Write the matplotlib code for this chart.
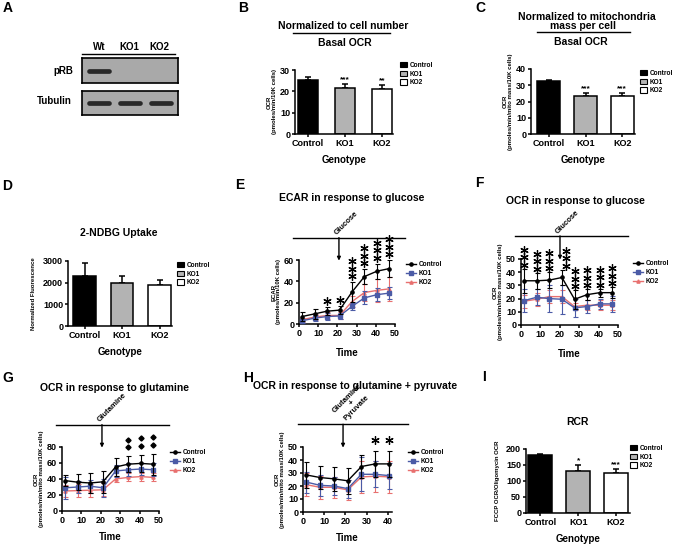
import numpy as np
import matplotlib
matplotlib.use('Agg')
import matplotlib.pyplot as plt
from matplotlib.patches import Patch
from matplotlib.lines import Line2D
from matplotlib import transforms

plt.rcParams['font.family'] = ['Liberation Sans', 'DejaVu Sans']
plt.rcParams['font.weight'] = 'bold'
plt.rcParams['axes.labelweight'] = 'bold'

W, H = 680, 544

genotypes = ['Control', 'KO1', 'KO2']
bar_colors = ['black', '#b3b3b3', 'white']
line_colors = ['black', '#4b5ba6', '#e8706f']
line_markers = ['o', 's', '^']

# A - western blot (relative band intensity per lane)
blot_lanes = ['Wt', 'KO1', 'KO2']
prb_band = [1, 0, 0]
tub_band = [1, 1, 1]

# B - basal OCR / cell number
b_mean = [25.5, 21.5, 21.0]
b_err = [1.0, 1.8, 2.0]
b_sig = ['', '***', '**']
# C - basal OCR / mito mass
c_mean = [32.5, 23.5, 23.5]
c_err = [1.0, 2.0, 1.5]
c_sig = ['', '***', '***']
# D - 2-NDBG uptake
d_mean = [2330, 1970, 1910]
d_err = [600, 350, 230]
d_sig = ['', '', '']
# I - RCR
i_mean = [181, 130, 124]
i_err = [4, 20, 15]
i_sig = ['', '*', '***']

# time points (min)
t8 = [1.6, 8.1, 14.6, 21.1, 27.6, 34.1, 40.6, 47.1]
t7 = t8[:7]

# E - ECAR glucose
e_mean = [[7, 9.5, 12, 13, 30, 44.5, 49.5, 52],
          [3, 5.5, 7, 7.5, 16.5, 24.5, 27.5, 29],
          [4, 6.5, 8, 8, 21, 29.5, 31.5, 33]]
e_err = [[4, 5, 4, 4, 9, 7, 7, 8],
         [2, 2.5, 3, 3, 3, 6, 6, 6],
         [2, 2.5, 3, 3, 5, 8, 11, 11]]
e_sig = [0, 0, 1, 1, 3, 3, 3, 3]

# F - OCR glucose
f_mean = [[33.5, 33.5, 34, 36, 19.5, 23, 24.5, 24.5],
          [18.5, 21, 20, 19.5, 13, 14, 16, 16],
          [18, 19.5, 21.5, 21.5, 14, 15, 15, 15]]
f_err = [[9, 6, 6, 6, 7, 4, 3, 4],
         [9, 6, 10, 11, 7, 5, 4, 6],
         [5, 5, 5, 5, 3, 4, 4, 4]]
f_sig = [3, 3, 3, 3, 3, 3, 3, 3]

# G - OCR glutamine
g_mean = [[38, 36, 35, 36.5, 55, 58.5, 59.5, 58.5],
          [29, 30, 31, 29, 50, 51.5, 52.5, 51.5],
          [25, 25.5, 26, 26.5, 40, 42, 43, 42]]
g_err = [[7, 10, 13, 14, 11, 10, 11, 13],
         [14, 8, 8, 11, 8, 8, 8, 8],
         [8, 8, 8, 8, 4, 5, 5, 5]]
g_sig = [0, 0, 0, 0, 0, 2, 2, 2]

# H - OCR glutamine + pyruvate
h_mean = [[28.5, 26.5, 25.5, 24, 35, 37, 37],
          [23, 20.5, 20, 18, 29, 29, 28],
          [21, 19, 19, 17, 27, 27.5, 27]]
h_err = [[10, 9, 9, 10, 9, 10, 10],
         [8, 8, 7, 7, 13, 10, 10],
         [9, 9, 8, 8, 12, 12, 12]]
h_sig = [0, 0, 0, 0, 0, 1, 1]

fig = plt.figure(figsize=(6.8, 5.44), dpi=100)


def rect(x0, y0, x1, y1):
    return [x0 / W, 1 - y1 / H, (x1 - x0) / W, (y1 - y0) / H]


def fxy(x, y):
    return x / W, 1 - y / H


def ftext(x, y, s, **kw):
    fx, fy = fxy(x, y)
    fig.text(fx, fy, s, **kw)


def fline(x0, x1, y):
    a, b = fxy(x0, y)
    c, d = fxy(x1, y)
    fig.add_artist(Line2D([a, c], [b, d], color='black', lw=1.0))


def style_axes(ax):
    for s in ['top', 'right']:
        ax.spines[s].set_visible(False)
    for s in ['left', 'bottom']:
        ax.spines[s].set_linewidth(1.1)
    ax.tick_params(direction='out', length=2.5, width=1.1, labelsize=6.5, pad=1)


def bar_panel(box, means, errs, sig, ylim, ystep, ylabel, leg, width=0.6, xl=(-0.45, 2.35), lpad=2):
    ax = fig.add_axes(rect(*box))
    x = np.arange(len(genotypes))
    ax.errorbar(x, means, yerr=[np.zeros(len(errs)), errs], fmt='none', ecolor='black',
                elinewidth=1.1, capsize=2.5, capthick=1.1, zorder=1)
    ax.bar(x, means, width=width, color=bar_colors, edgecolor='black', linewidth=1.1, zorder=2)
    ymax = ylim[1]
    for xi, m, e, s in zip(x, means, errs, sig):
        if s:
            ax.text(xi, m + e + 0.01 * ymax, s, ha='center', va='bottom', fontsize=6)
    ax.set_xlim(*xl)
    ax.set_ylim(*ylim)
    ax.set_yticks(np.arange(ylim[0], ylim[1] + 1, ystep))
    ax.set_xticks(x)
    ax.set_xticklabels(genotypes)
    ax.set_ylabel(ylabel, fontsize=4.3, labelpad=lpad, linespacing=1.0)
    ax.set_xlabel('Genotype', fontsize=7, labelpad=5)
    style_axes(ax)
    handles = [Patch(facecolor=c, edgecolor='black', linewidth=0.8) for c in bar_colors]
    lx, ly = fxy(*leg)
    ax.legend(handles, genotypes, loc='upper left', bbox_to_anchor=(lx, ly),
              bbox_transform=fig.transFigure, frameon=False, fontsize=4.7,
              handlelength=1.1, handleheight=0.9, handletextpad=0.4,
              labelspacing=0.25, borderpad=0, borderaxespad=0)
    return ax


def line_panel(box, t, means, errs, xlim, ylim, ystep, ylabel, sig, mark, inj_t, inj_label,
               inj_dx, leg, sig_pad=6, sig_shift=None, xstep=10, line_right=1.1, xpad=7):
    ax = fig.add_axes(rect(*box))
    for k in [2, 1, 0]:
        ax.errorbar(t, means[k], yerr=errs[k], color=line_colors[k], marker=line_markers[k],
                    ms=2.3, lw=1.0, elinewidth=0.8, capsize=1.8, capthick=0.8, zorder=3 + (2 - k))
    ax.set_xlim(*xlim)
    ax.set_ylim(*ylim)
    ax.set_xticks(np.arange(0, xlim[1] + 0.1, xstep))
    ax.set_yticks(np.arange(ylim[0], ylim[1] + 1, ystep))
    ax.set_ylabel(ylabel, fontsize=4.3, labelpad=2, linespacing=1.0)
    ax.set_xlabel('Time', fontsize=7, labelpad=xpad)
    style_axes(ax)
    # significance marks stacked above control
    ppu = (box[3] - box[1]) / (ylim[1] - ylim[0])
    for i, n in enumerate(sig):
        xs = t[i] + (sig_shift[i] if sig_shift else 0)
        base = means[0][i] + errs[0][i] + sig_pad / ppu
        for j in range(n):
            y = base + j * 7.5 / ppu
            if mark == '*':
                ax.plot(xs, y, marker=(6, 2, 0), ms=6.0, mew=0.9, color='black',
                        ls='none', clip_on=False, zorder=6)
            else:
                ax.plot(xs, y, marker='D', ms=2.6, color='black', ls='none', clip_on=False, zorder=6)
    # injection line / arrow
    tr = transforms.blended_transform_factory(ax.transData, ax.transAxes)
    ax.plot([-0.06, line_right], [1.35, 1.35], transform=ax.transAxes, color='black',
            lw=1.0, clip_on=False)
    ax.annotate('', xy=(inj_t, 0.99), xytext=(inj_t, 1.35), xycoords=tr, textcoords=tr,
                arrowprops=dict(arrowstyle='-|>', color='black', lw=1.0, mutation_scale=5,
                                shrinkA=0, shrinkB=0))
    ax.annotate(inj_label, xy=(inj_t, 1.35), xycoords=tr, xytext=(inj_dx, 0.5),
                textcoords='offset points', rotation=45, rotation_mode='anchor',
                ha='left', va='bottom', fontsize=5.6, multialignment='center', linespacing=0.95)
    handles = [Line2D([], [], color=line_colors[k], marker=line_markers[k], ms=2.3, lw=1.0)
               for k in range(3)]
    lx, ly = fxy(*leg)
    ax.legend(handles, genotypes, loc='upper left', bbox_to_anchor=(lx, ly),
              bbox_transform=fig.transFigure, frameon=False, fontsize=4.7,
              handlelength=1.5, handletextpad=0.4, labelspacing=0.3,
              borderpad=0, borderaxespad=0)
    return ax


# ---------------- A: blot ----------------
for box, band in [((82, 58, 178, 83), prb_band), ((82, 91, 178, 115), tub_band)]:
    ax = fig.add_axes(rect(*box))
    ax.set_facecolor('#a9a9a9')
    for i, v in enumerate(band):
        if v > 0:
            ax.plot([i - 0.32, i + 0.32], [0, 0], color='#222222', lw=3.4 * v,
                    solid_capstyle='round', alpha=0.95)
    ax.set_xlim(-0.55, 2.55)
    ax.set_ylim(-1, 1)
    ax.set_xticks([])
    ax.set_yticks([])
    for s in ax.spines.values():
        s.set_linewidth(1.2)
for i, lane in enumerate(blot_lanes):
    ftext(99 + i * 30, 47, lane, ha='center', va='center', fontsize=7)
fline(82, 175, 54)
ftext(73, 71, 'pRB', ha='right', va='center', fontsize=7)
ftext(72, 101, 'Tubulin', ha='right', va='center', fontsize=7)

# ---------------- B ----------------
bar_panel((295, 70, 393, 134), b_mean, b_err, b_sig, (0, 30), 10,
          'OCR\n(pmoles/min/10K cells)', (400, 62), width=0.53, xl=(-0.35, 2.3))
ftext(343, 26, 'Normalized to cell number', ha='center', va='center', fontsize=7.5)
fline(293, 390, 33)
ftext(345, 43, 'Basal OCR', ha='center', va='center', fontsize=7.5)

# ---------------- C ----------------
bar_panel((531, 69, 635, 134), c_mean, c_err, c_sig, (0, 40), 10,
          'OCR\n(pmoles/min/mito mass/10K cells)', (640, 70), width=0.63, xl=(-0.49, 2.35))
ftext(587, 17, 'Normalized to mitochondria', ha='center', va='center', fontsize=7.5)
ftext(583, 26, 'mass per cell', ha='center', va='center', fontsize=7.5)
fline(537, 630, 32)
ftext(581, 42, 'Basal OCR', ha='center', va='center', fontsize=7.5)

# ---------------- D ----------------
bar_panel((68, 261, 172, 326), d_mean, d_err, d_sig, (0, 3000), 1000,
          'Normalized Fluorescence', (177, 262), width=0.6, xl=(-0.44, 2.33), lpad=5)
ftext(119, 233, '2-NDBG Uptake', ha='center', va='center', fontsize=7.5)

# ---------------- E ----------------
line_panel((299, 260, 395, 324), t8, e_mean, e_err, (0, 50), (0, 60), 20,
           'ECAR\n(pmoles/min/10K cells)', e_sig, '*', 20.8, 'Glucose', -1,
           (406, 261), sig_pad=6)
ftext(352, 198, 'ECAR in response to glucose', ha='center', va='center', fontsize=7.5)

# ---------------- F ----------------
line_panel((521, 259, 618, 325), t8, f_mean, f_err, (0, 50), (0, 50), 10,
           'OCR\n(pmoles/min/mito mass/10K cells)', f_sig, '*', 20.1, 'Glucose', -1,
           (633, 260), sig_pad=4, sig_shift=[0, 0, 0, 2, 0, 0, 0, 0])
ftext(575, 201, 'OCR in response to glucose', ha='center', va='center', fontsize=7.5)

# ---------------- G ----------------
line_panel((62, 447, 159, 511), t8, g_mean, g_err, (0, 50), (0, 80), 20,
           'OCR\n(pmoles/min/mito mass/10K cells)', g_sig, 'D', 20.6, 'Glutamine', -1,
           (170, 449), sig_pad=9, xpad=5)
ftext(115, 388, 'OCR in response to glutamine', ha='center', va='center', fontsize=7.5)

# ---------------- H ----------------
line_panel((303, 447, 392, 512), t7, h_mean, h_err, (0, 42), (0, 50), 10,
           'OCR\n(pmoles/min/mito mass/10K cells)', h_sig, '*', 18.9,
           'Glutamine\n+\nPyruvate', 2, (408, 449), sig_pad=11, line_right=1.18, xpad=5)
ftext(253, 386, 'OCR in response to glutamine + pyruvate', ha='left', va='center', fontsize=7.5)

# ---------------- I ----------------
bar_panel((526, 449, 630, 513), i_mean, i_err, i_sig, (0, 200), 50,
          'FCCP OCR/Oligomycin OCR', (630, 445), width=0.63, xl=(-0.38, 2.37), lpad=4)
ftext(577, 422, 'RCR', ha='center', va='center', fontsize=7.5)

# panel letters
for lab, x, y in [('A', 3, 8), ('B', 238, 8), ('C', 475, 8), ('D', 2, 186), ('E', 235, 185),
                  ('F', 475, 183), ('G', 2, 378), ('H', 243, 378), ('I', 482, 377)]:
    ftext(x, y, lab, ha='left', va='center', fontsize=10)

fig.savefig('out.png', dpi=100)
